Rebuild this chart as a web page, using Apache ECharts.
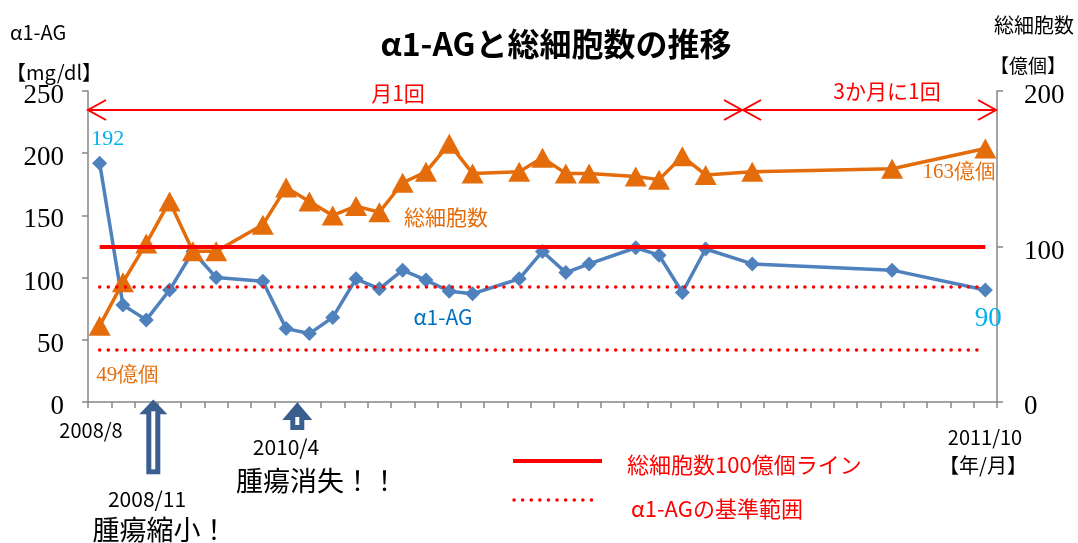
<!DOCTYPE html>
<html>
<head>
<meta charset="utf-8">
<script src="https://cdn.jsdelivr.net/npm/echarts@6/dist/echarts.min.js"></script>
<style>
  html, body { margin: 0; padding: 0; background: #fff; }
  #chart { width: 1078px; height: 543px; }
</style>
</head>
<body>
<div id="chart"></div>
<script>
// 月ごとのカテゴリ（2008/8〜2011/10）
const categories = [
  '2008/8', '2008/9', '2008/10', '2008/11', '2008/12',
  '2009/1', '2009/2', '2009/3', '2009/4', '2009/5', '2009/6',
  '2009/7', '2009/8', '2009/9', '2009/10', '2009/11', '2009/12',
  '2010/1', '2010/2', '2010/3', '2010/4', '2010/5', '2010/6',
  '2010/7', '2010/8', '2010/9', '2010/10', '2010/11', '2010/12',
  '2011/1', '2011/2', '2011/3', '2011/4', '2011/5', '2011/6',
  '2011/7', '2011/8', '2011/9', '2011/10'
];
// α1-AG【mg/dl】
const agValues = [
  192, 78, 66, 90, 121, 100, null, 97, 59, 55, 68, 99, 91, 106, 98, 89, 87, null,
  99, 121, 104, 111, null, 124, 118, 88, 123, null, 111, null, null, null, null, null,
  106, null, null, null, 90
];
// 総細胞数【億個】
const cellValues = [
  49, 77, 102, 129, 97, 97, null, 114, 138, 129, 120, 126, 122, 141, 148, 166, 147, null,
  148, 157, 147, 147, null, 145, 143, 158, 146, null, 148, null, null, null, null, null,
  150, null, null, null, 163
];
const cellLine = [100];      // 総細胞数100億個ライン
const agRange = [42, 93];    // α1-AGの基準範囲
const leftTicks = [0, 50, 100, 150, 200, 250];
const rightTicks = [0, 100, 200];

const SANS = '"Noto Sans CJK JP", "Noto Sans", sans-serif';
const SERIF = '"Liberation Serif", "DejaVu Serif", serif';
const RED = '#FF0000';
const BLUE = '#4F81BD';
const ORANGE = '#E46C0A';
const AXIS = '#868686';

const chart = echarts.init(document.getElementById('chart'));

// 特定の点だけラベルを付ける
function withLabels(values, labels) {
  return values.map((v, i) => (labels[i] && v != null) ? { value: v, label: labels[i] } : v);
}

const agLabels = {
  0: { show: true, position: 'top', offset: [8, 0], distance: 5, fontSize: 22, color: '#00B0F0', fontFamily: SERIF, formatter: '{c}' },
  38: { show: true, position: 'bottom', offset: [3, 0], distance: 8, fontSize: 27, color: '#00B0F0', fontFamily: SERIF, formatter: '{c}' }
};
const cellLabels = {
  0: { show: true, position: 'bottom', offset: [28, 0], distance: 29, fontSize: 21, color: ORANGE, fontFamily: SERIF, formatter: '{c}億個' },
  38: { show: true, position: 'bottom', offset: [-26, 0], distance: 3, fontSize: 21, color: ORANGE, fontFamily: SERIF, formatter: '{c}億個' }
};

function text(str, x, y, size, color, align, weight, family) {
  return {
    type: 'text', x: x, y: y, z: 10, silent: true,
    style: {
      text: str, fill: color || '#000',
      font: (weight || 'normal') + ' ' + size + 'px ' + (family || SANS),
      textAlign: align || 'left', align: align || 'left',
      textVerticalAlign: 'middle', verticalAlign: 'middle'
    }
  };
}

// 上向きのブロック矢印
function upArrow(cx, tipY, headY, bottomY, headHalf, shaftHalf) {
  return [
    {
      type: 'polygon', z: 10, silent: true,
      shape: { points: [
        [cx, tipY], [cx + headHalf, headY], [cx + shaftHalf, headY], [cx + shaftHalf, bottomY],
        [cx - shaftHalf, bottomY], [cx - shaftHalf, headY], [cx - headHalf, headY]
      ] },
      style: { fill: '#3A5F8F' }
    },
    {
      type: 'rect', z: 11, silent: true,
      shape: { x: cx - 2, y: headY - 3, width: 4, height: bottomY - headY - 2 },
      style: { fill: '#fff' }
    }
  ];
}

function chevron(x, y, dir) {
  return {
    type: 'polyline', z: 10, silent: true,
    shape: { points: [[x - dir * 18, y - 10], [x, y], [x - dir * 18, y + 10]] },
    style: { stroke: RED, lineWidth: 2, fill: null }
  };
}

const option = {
  animation: false,
  grid: { left: 88, right: 81, top: 91, bottom: 141 },
  xAxis: {
    type: 'category',
    data: categories,
    boundaryGap: true,
    axisLine: { lineStyle: { color: AXIS, width: 1.5 } },
    axisTick: { show: true, interval: 0, length: 6, lineStyle: { color: AXIS, width: 1.5 } },
    axisLabel: { show: false },
    splitLine: { show: false }
  },
  yAxis: [
    {
      type: 'value', min: 0, max: 250, interval: 50, position: 'left',
      axisLine: { show: true, lineStyle: { color: AXIS, width: 1.5 } },
      axisTick: { show: true, length: 6, lineStyle: { color: AXIS, width: 1.5 } },
      axisLabel: {
        margin: 24, fontSize: 27, color: '#000', fontFamily: SERIF,
        verticalAlign: 'top', lineHeight: 10,
        formatter: v => leftTicks.indexOf(v) >= 0 ? String(v) : ''
      },
      splitLine: { show: false }
    },
    {
      type: 'value', min: 0, max: 200, interval: 100, position: 'right',
      axisLine: { show: true, lineStyle: { color: AXIS, width: 1.5 } },
      axisTick: { show: true, length: 6, lineStyle: { color: AXIS, width: 1.5 } },
      axisLabel: {
        margin: 27, fontSize: 27, color: '#000', fontFamily: SERIF,
        verticalAlign: 'top', lineHeight: 10,
        formatter: v => rightTicks.indexOf(v) >= 0 ? String(v) : ''
      },
      splitLine: { show: false }
    }
  ],
  series: [
    {
      name: '総細胞数100億個ライン', type: 'line', yAxisIndex: 1, data: [], z: 1,
      markLine: {
        silent: true, symbol: 'none', label: { show: false }, animation: false,
        lineStyle: { color: RED, width: 4, type: 'solid' },
        data: cellLine.map(v => [
          { coord: [categories[0], v] },
          { coord: [categories[categories.length - 1], v] }
        ])
      }
    },
    {
      name: 'α1-AGの基準範囲', type: 'line', yAxisIndex: 0, data: [], z: 1,
      markLine: {
        silent: true, symbol: 'none', label: { show: false }, animation: false,
        lineStyle: { color: RED, width: 3.5, type: [0.1, 8.5], cap: 'round' },
        data: agRange.map(v => [
          { coord: [categories[0], v] },
          { coord: [categories[categories.length - 1], v] }
        ])
      }
    },
    {
      name: 'α1-AG', type: 'line', yAxisIndex: 0, z: 3,
      data: withLabels(agValues, agLabels),
      connectNulls: true,
      symbol: 'diamond', symbolSize: 15, showAllSymbol: true,
      lineStyle: { color: BLUE, width: 3.5 },
      itemStyle: { color: BLUE }
    },
    {
      name: '総細胞数', type: 'line', yAxisIndex: 1, z: 4,
      data: withLabels(cellValues, cellLabels),
      connectNulls: true,
      symbol: 'triangle', symbolSize: [22, 20], showAllSymbol: true,
      lineStyle: { color: ORANGE, width: 3.5 },
      itemStyle: { color: ORANGE }
    }
  ],
  graphic: [
    text('α1-AGと総細胞数の推移', 556, 44, 32, '#000', 'center', 'bold'),
    text('α1-AG', 10, 32, 20, '#000'),
    text('【mg/dl】', 6, 72, 20, '#000'),
    text('総細胞数', 1074, 25, 20, '#000', 'right'),
    text('【億個】', 1066, 66, 19, '#000', 'right'),

    // 測定頻度の矢印
    { type: 'line', z: 10, silent: true, shape: { x1: 88, y1: 110, x2: 742, y2: 110 }, style: { stroke: RED, lineWidth: 2 } },
    { type: 'line', z: 10, silent: true, shape: { x1: 743, y1: 110, x2: 996, y2: 110 }, style: { stroke: RED, lineWidth: 2 } },
    chevron(88, 110, -1), chevron(742, 110, 1), chevron(743, 110, -1), chevron(996, 110, 1),
    text('月1回', 398, 93, 21, RED, 'center'),
    text('3か月に1回', 887, 91, 21, RED, 'center'),

    // 系列名
    text('総細胞数', 446, 217, 21, ORANGE, 'center'),
    text('α1-AG', 443, 317, 21, '#0070C0', 'center'),

    // x軸の日付
    text('2008/8', 91, 430, 20, '#000', 'center'),
    text('2011/10', 985, 437, 20, '#000', 'center'),
    text('【年/月】', 983, 465, 20, '#000', 'center'),

    // 腫瘍の経過
    ...upArrow(153.3, 399.5, 414.3, 474.3, 14, 7),
    ...upArrow(297.3, 402.3, 420, 430, 15, 7),
    text('2008/11', 147, 499, 21, '#000', 'center'),
    text('腫瘍縮小！', 160, 530, 27, '#000', 'center'),
    text('2010/4', 286, 447, 21, '#000', 'center'),
    text('腫瘍消失！！', 317, 481, 27, '#000', 'center'),

    // 凡例
    { type: 'line', z: 10, silent: true, shape: { x1: 513, y1: 461, x2: 602, y2: 461 }, style: { stroke: RED, lineWidth: 4 } },
    { type: 'line', z: 10, silent: true, shape: { x1: 514, y1: 500, x2: 600, y2: 500 }, style: { stroke: RED, lineWidth: 3.5, lineDash: [0.1, 8.5], lineCap: 'round' } },
    text('総細胞数100億個ライン', 627, 465, 22, RED),
    text('α1-AGの基準範囲', 631, 509, 22, RED)
  ]
};

chart.setOption(option);
</script>
</body>
</html>
